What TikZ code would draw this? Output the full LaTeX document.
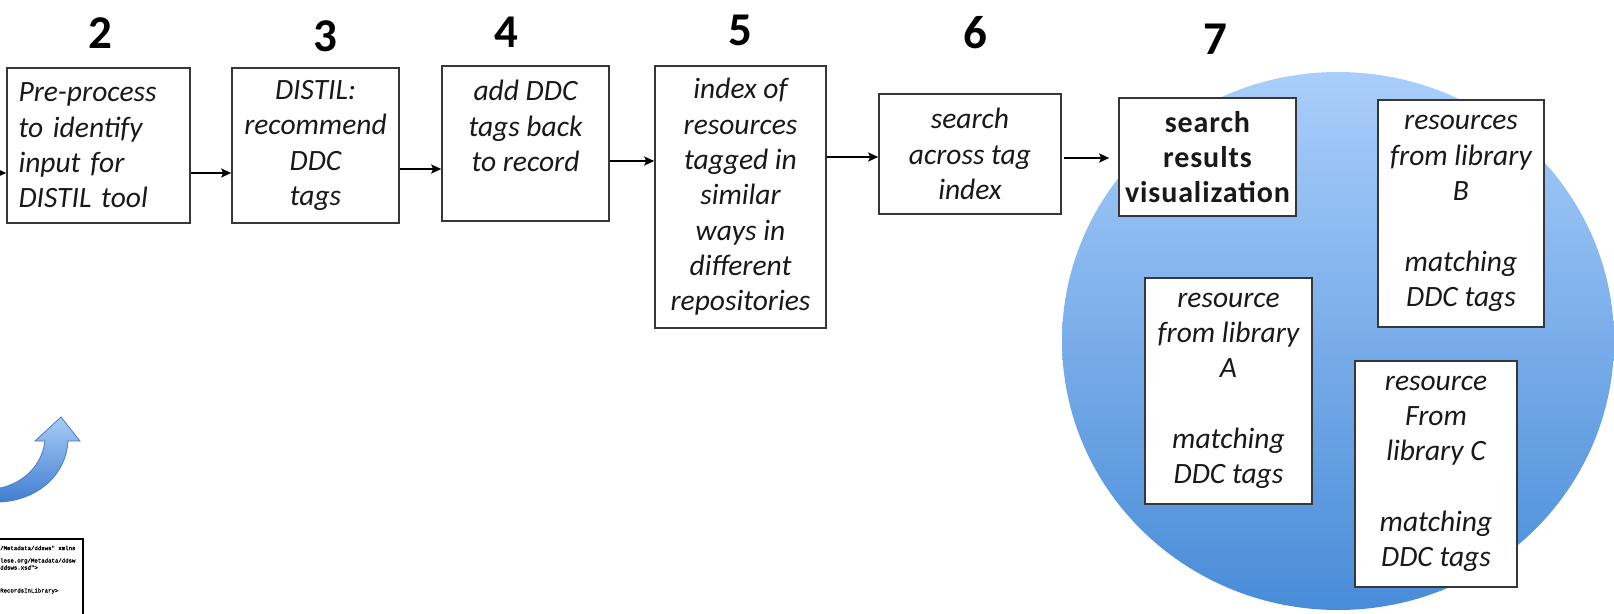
\documentclass[tikz,border=0pt]{standalone}
\usepackage{fontspec}
\setmainfont{Carlito}
\newfontfamily\xmlfont{Liberation Mono}[FakeBold=1.5]
\usetikzlibrary{arrows.meta,calc}
\definecolor{circTop}{RGB}{170,206,251}
\definecolor{circBot}{RGB}{72,140,216}
\definecolor{cArrTop}{RGB}{168,203,247}
\definecolor{cArrBot}{RGB}{64,125,208}
\definecolor{cArrLine}{RGB}{78,124,190}
\definecolor{boxLine}{RGB}{55,55,55}
\begin{document}
\begin{tikzpicture}[x=1pt,y=-1pt,
  box/.style={draw=boxLine, line width=1.6pt, fill=white, align=center, inner sep=0pt,
              font=\fontsize{29.5}{35.3}\selectfont\itshape, text=black!90},
  boldbox/.style={box, font=\fontsize{30}{35.3}\selectfont\bfseries\addfontfeature{LetterSpace=3}},
  num/.style={inner sep=0pt, font=\fontsize{47}{50}\selectfont\bfseries},
  arr/.style={line width=2.5pt, -{Stealth[length=10pt,width=9pt,inset=2pt]}},
  xml/.style={anchor=west, inner sep=0pt, font=\xmlfont\fontsize{5.7}{6}\selectfont},
]
\useasboundingbox (0,0) rectangle (1614,613);
\clip (0,0) rectangle (1614,613);

% big shaded circle
\shade[top color=circTop, bottom color=circBot] (1338,341) ellipse [x radius=276, y radius=269];

% step numbers
\node[num] (n2) at (100,33) {2};
\node[num] (n3) at (325,36) {3};
\node[num] (n4) at (506,32) {4};
\node[num] (n5) at (740,30) {5};
\node[num] (n6) at (975,33) {6};
\node[num] (n7) at (1215,39) {7};

% boxes
\node[box, minimum width=183pt, minimum height=155pt, text width=160pt, align=left] (b2) at (98.5,145.5)
  {Pre-process\\to identify\\input for\\DISTIL tool};
\node[box, minimum width=167pt, minimum height=155pt] (b3) at (315.5,145.5)
  {DISTIL:\\recommend\\DDC\\tags};
\node[box, minimum width=167pt, minimum height=155pt] (b4) at (525.5,143.5)
  {add DDC\\tags back\\to record\\\mbox{}};
\node[box, minimum width=171pt, minimum height=262pt] (b5) at (740.5,197)
  {index of\\resources\\tagged in\\similar\\ways in\\different\\repositories};
\node[box, minimum width=182pt, minimum height=120pt] (b6) at (970,154)
  {search\\across tag\\index};
\node[boldbox, minimum width=177pt, minimum height=118pt] (b7) at (1207.5,157)
  {search\\results\\visualization};
\node[box, minimum width=166pt, minimum height=227pt] (bB) at (1461,213.5)
  {resources\\from library\\B\\\mbox{}\\matching\\DDC tags};
\node[box, minimum width=167pt, minimum height=226pt] (bA) at (1228.5,391)
  {resource\\from library\\A\\\mbox{}\\matching\\DDC tags};
\node[box, minimum width=162pt, minimum height=226pt] (bC) at (1436,474)
  {resource\\From\\library C\\\mbox{}\\matching\\DDC tags};

% arrow heights
\coordinate (in2) at (-10,173);
\coordinate (h23) at (0,173);
\coordinate (h34) at (0,169);
\coordinate (h45) at (0,161);
\coordinate (h56) at (0,157);
\coordinate (h67) at (0,158);

\draw[arr] (in2) -- (b2.west |- in2);
\draw[arr] (b2.east |- h23) -- (b3.west |- h23);
\draw[arr] (b3.east |- h34) -- (b4.west |- h34);
\draw[arr] (b4.east |- h45) -- (b5.west |- h45);
\draw[arr] (b5.east |- h56) -- (b6.west |- h56);
\draw[arr] ([xshift=2pt]b6.east |- h67) -- ($(b7.west |- h67)+(-9,0)$);

% curved blue arrow
\shade[top color=cArrTop, bottom color=cArrBot, draw=cArrLine, line width=0.8pt]
  (61,417) -- (80,441) -- (68,441)
  .. controls (66,475) and (38,500) .. (0,502)
  -- (-20,503) -- (-20,489) -- (0,488)
  .. controls (24,483) and (42,465) .. (45,441)
  -- (35,441) -- cycle;

% xml snippet box
\draw[line width=2.4pt, fill=white] (-20,539) rectangle (83,640);
\node[xml] (x1) at (0,548) {/Metadata/ddsws" xmlns};
\node[xml] (x2) at (0,561) {lese.org/Metadata/ddsw};
\node[xml] (x3) at (0,567.5) {ddsws.xsd">};
\node[xml] (x4) at (0,591) {RecordsInLibrary>};
\end{tikzpicture}
\end{document}
